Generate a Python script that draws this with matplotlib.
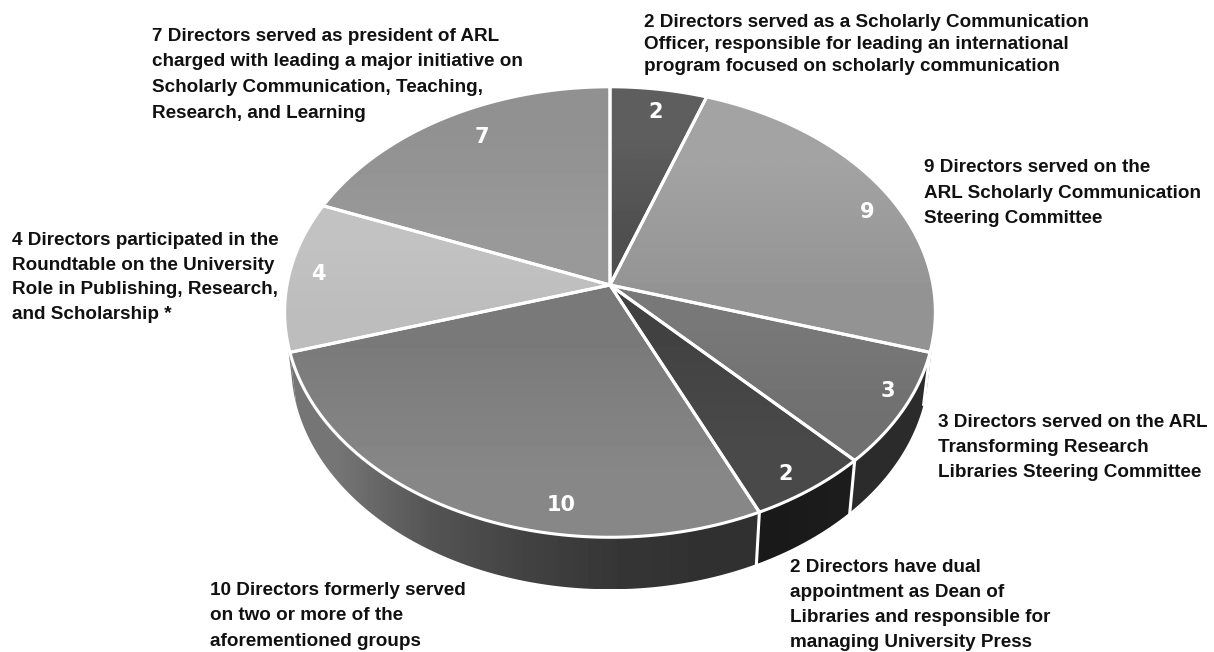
import numpy as np
import matplotlib
matplotlib.use('Agg')
import matplotlib.pyplot as plt
from matplotlib.patches import Polygon

plt.rcParams['font.family'] = ['Liberation Sans', 'DejaVu Sans']

# slices clockwise from 12 o'clock
values = [2, 9, 3, 2, 10, 4, 7]
top_shades = [(0.37, 0.31), (0.64, 0.58), (0.47, 0.44), (0.26, 0.29),
              (0.48, 0.53), (0.76, 0.74), (0.57, 0.60)]
# left to right along the wall
wall_shades = [None, None, [0.17], [0.10, 0.11], [0.46, 0.33, 0.26, 0.21, 0.19], None, None]

value_pos = [(656, 112), (867, 212), (888, 391), (786, 474),
             (561, 505), (318, 274), (482, 137)]

label_lines = [
    ['2 Directors served as a Scholarly Communication',
     'Officer, responsible for leading an international',
     'program focused on scholarly communication'],
    ['9 Directors served on the', 'ARL Scholarly Communication', 'Steering Committee'],
    ['3 Directors served on the ARL', 'Transforming Research', 'Libraries Steering Committee'],
    ['2 Directors have dual', 'appointment as Dean of',
     'Libraries and responsible for', 'managing University Press'],
    ['10 Directors formerly served', 'on two or more of the', 'aforementioned groups'],
    ['4 Directors participated in the', 'Roundtable on the University',
     'Role in Publishing, Research,', 'and Scholarship *'],
    ['7 Directors served as president of ARL', 'charged with leading a major initiative on',
     'Scholarly Communication, Teaching,', 'Research, and Learning'],
]
label_x = [644, 924, 938, 790, 210, 12, 152]
label_y = [27, 172, 427, 572, 595, 245, 41]
label_step = [22, 25.5, 25, 25, 25.5, 24.7, 25.5]

# tilted disc, the hub sits above the middle of the rim ellipse
cx, cy = 610, 285
a, b, k = 323, 222, 0.12
depth, shrink = 52, 0.98


def rim(t):
    u, v = np.sin(t), np.cos(t)
    w = 1 + k * v
    return cx + a * u / w, cy - b * v / w


def fill(pts, img, z):
    poly = Polygon(pts, closed=True, transform=ax.transData, fc='none', ec='none')
    ax.add_patch(poly)
    im = ax.imshow(img, extent=(pts[:, 0].min(), pts[:, 0].max(), pts[:, 1].max(), pts[:, 1].min()),
                   cmap='gray', vmin=0, vmax=1, interpolation='bilinear', aspect='auto', zorder=z)
    im.set_clip_path(poly)


def wall(t, shades):
    x, y = rim(t)
    xb = cx + (x - cx) * shrink
    yb = y + depth
    fill(np.r_[np.c_[x, y], np.c_[xb, yb][::-1]], np.array([shades]), 2)
    return x, y, xb, yb


fig = plt.figure(figsize=(12.14, 6.52), dpi=100)
ax = fig.add_axes([0, 0, 1, 1])

edges = np.cumsum([0] + values) / sum(values) * 2 * np.pi

# side wall, only the front of the disc shows
for i in range(len(values)):
    if wall_shades[i] is None:
        continue
    x, y, xb, yb = wall(np.linspace(edges[i], edges[i + 1], 80), wall_shades[i])
    ax.plot([x[0], xb[0]], [y[0], yb[0]], color='white', lw=2.2, zorder=3)

# the wall runs a little past the slices 3 and 10 at both ends
wall(np.linspace(edges[2] - 0.12, edges[2], 20), wall_shades[2])
wall(np.linspace(edges[5], edges[5] + 0.12, 20), wall_shades[4][:1])

# top of the disc
for i in range(len(values)):
    x, y = rim(np.linspace(edges[i], edges[i + 1], 80))
    pts = np.r_[[[cx, cy]], np.c_[x, y]]
    fill(pts, np.array([[top_shades[i][0]], [top_shades[i][1]]]), 4)
    ax.add_patch(Polygon(pts, closed=True, fc='none', ec='white', lw=2.2,
                         joinstyle='round', zorder=5))

for v, (x, y) in zip(values, value_pos):
    ax.text(x, y, str(v), color='white', fontsize=15, fontweight='bold',
            family='DejaVu Sans', ha='center', va='center', zorder=6)

for lines, x, y, step in zip(label_lines, label_x, label_y, label_step):
    for n, line in enumerate(lines):
        ax.text(x, y + n * step, line, color='#111111', fontsize=13.6, fontweight='bold',
                ha='left', va='baseline', zorder=6)

ax.set_xlim(0, 1214)
ax.set_ylim(652, 0)
ax.axis('off')
fig.savefig('out.png', dpi=100, facecolor='white')
